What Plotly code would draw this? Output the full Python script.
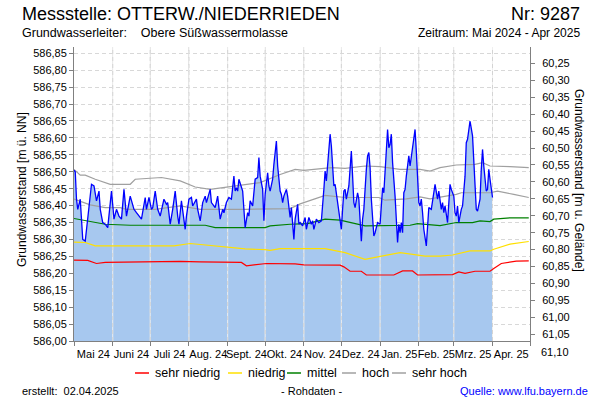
import pandas as pd
import plotly.graph_objects as go

# ---------------- data ----------------
START = "2024-05-01"
END = "2025-05-01"
GELAENDE = 647.07          # Geländehöhe [m ü. NN] -> rechte Achse
Y_MIN = 586.00
Y_MAX = 586.8686

# gemessene Grundwasserstände (Tage seit 01.05.2024, m ü. NN)
meas_day_offset = [
    0, 1, 2, 3, 5, 7, 9, 12, 14, 16,
    18, 20, 21, 23, 25, 27, 30, 32, 34, 36,
    38, 40, 42, 45, 48, 50, 52, 54, 57, 58,
    60, 62, 63, 65, 67, 69, 72, 74, 75, 77,
    79, 81, 83, 84, 86, 87, 89, 90, 92, 94,
    95, 98, 99, 101, 103, 105, 106, 109, 110, 113,
    115, 117, 119, 120, 122, 124, 126, 128, 129, 130,
    131, 132, 134, 135, 137, 139, 140, 141, 143, 145,
    147, 148, 149, 151, 152, 153, 155, 156, 157, 159,
    160, 162, 163, 165, 166, 167, 168, 170, 171, 173,
    174, 176, 177, 179, 180, 181, 183, 185, 186, 188,
    190, 191, 192, 194, 196, 198, 200, 201, 202, 204,
    205, 206, 208, 209, 211, 212, 214, 215, 216, 217,
    218, 220, 221, 222, 223, 224, 225, 227, 228, 229,
    230, 231, 232, 234, 235, 236, 237, 238, 240, 241,
    243, 245, 246, 247, 248, 249, 251, 252, 253, 254,
    255, 257, 258, 259, 260, 261, 262, 263, 264, 265,
    266, 268, 269, 271, 273, 274, 276, 277, 278, 279,
    280, 282, 283, 284, 286, 288, 289, 291, 292, 294,
    295, 296, 297, 299, 300, 301, 302, 304, 305, 306,
    307, 308, 310, 311, 313, 314, 315, 316, 317, 319,
    320, 321, 322, 323, 325, 326, 327, 328, 330, 331,
    332, 333, 334, 335,
]
meas_level = [
    586.505, 586.500, 586.419, 586.389, 586.419, 586.300, 586.295, 586.389, 586.463, 586.458,
    586.414, 586.443, 586.389, 586.350, 586.345, 586.335, 586.443, 586.360, 586.389, 586.369,
    586.360, 586.448, 586.369, 586.428, 586.389, 586.379, 586.369, 586.360, 586.424, 586.389,
    586.424, 586.389, 586.394, 586.443, 586.389, 586.369, 586.419, 586.404, 586.409, 586.345,
    586.389, 586.443, 586.369, 586.345, 586.414, 586.389, 586.330, 586.369, 586.419, 586.424,
    586.399, 586.419, 586.389, 586.355, 586.409, 586.428, 586.409, 586.448, 586.409, 586.394,
    586.428, 586.360, 586.389, 586.379, 586.409, 586.424, 586.419, 586.487, 586.443, 586.453,
    586.443, 586.478, 586.458, 586.443, 586.335, 586.379, 586.369, 586.414, 586.399, 586.478,
    586.483, 586.542, 586.487, 586.448, 586.355, 586.433, 586.497, 586.458, 586.443, 586.478,
    586.522, 586.591, 586.517, 586.443, 586.433, 586.409, 586.428, 586.448, 586.428, 586.365,
    586.394, 586.300, 586.360, 586.404, 586.345, 586.350, 586.340, 586.365, 586.330, 586.365,
    586.345, 586.355, 586.330, 586.360, 586.350, 586.355, 586.448, 586.502, 586.473, 586.586,
    586.611, 586.576, 586.458, 586.463, 586.414, 586.389, 586.330, 586.389, 586.443, 586.448,
    586.419, 586.458, 586.517, 586.561, 586.487, 586.409, 586.394, 586.438, 586.419, 586.355,
    586.295, 586.360, 586.389, 586.507, 586.547, 586.557, 586.512, 586.419, 586.310, 586.320,
    586.350, 586.345, 586.399, 586.453, 586.438, 586.512, 586.625, 586.571, 586.581, 586.611,
    586.527, 586.428, 586.345, 586.291, 586.345, 586.320, 586.350, 586.320, 586.438, 586.448,
    586.487, 586.547, 586.517, 586.566, 586.625, 586.561, 586.409, 586.399, 586.419, 586.379,
    586.330, 586.281, 586.350, 586.394, 586.389, 586.433, 586.463, 586.419, 586.443, 586.389,
    586.409, 586.379, 586.399, 586.350, 586.399, 586.463, 586.448, 586.428, 586.379, 586.369,
    586.399, 586.350, 586.389, 586.399, 586.487, 586.586, 586.596, 586.620, 586.650, 586.606,
    586.527, 586.438, 586.389, 586.384, 586.419, 586.507, 586.566, 586.517, 586.443, 586.448,
    586.507, 586.478, 586.443, 586.424,
]

# Kennwerte (Statistik)
sn_dates = ["2024-05-01", "2024-05-12", "2024-05-19", "2024-05-26", "2024-06-10", "2024-06-25",
            "2024-07-10", "2024-07-25", "2024-08-10", "2024-08-25", "2024-09-12", "2024-09-16",
            "2024-09-25", "2024-10-02", "2024-10-25", "2024-11-01", "2024-11-30", "2024-12-03",
            "2024-12-08", "2024-12-17", "2024-12-21", "2025-01-12", "2025-01-19", "2025-01-27",
            "2025-01-31", "2025-02-28", "2025-03-05", "2025-03-10", "2025-03-18", "2025-03-30",
            "2025-04-02", "2025-04-08", "2025-04-20", "2025-04-30"]
sn_values = [586.239, 586.238, 586.229, 586.232, 586.233, 586.234,
             586.233, 586.235, 586.234, 586.233, 586.232, 586.222,
             586.225, 586.229, 586.228, 586.225, 586.224, 586.219,
             586.206, 586.206, 586.195, 586.195, 586.207, 586.207,
             586.195, 586.196, 586.204, 586.200, 586.206, 586.206,
             586.214, 586.229, 586.236, 586.237]

nd_dates = ["2024-05-01", "2024-05-10", "2024-05-18", "2024-06-20", "2024-07-10", "2024-07-20",
            "2024-08-02", "2024-08-15", "2024-09-01", "2024-09-15", "2024-10-01", "2024-10-05",
            "2024-10-13", "2024-11-05", "2024-11-18", "2024-12-04", "2024-12-20", "2024-12-29",
            "2025-01-17", "2025-02-06", "2025-02-18", "2025-02-28", "2025-03-14", "2025-03-30",
            "2025-04-02", "2025-04-15", "2025-04-30"]
nd_values = [586.292, 586.291, 586.281, 586.281, 586.279, 586.281,
             586.288, 586.283, 586.278, 586.272, 586.270, 586.268,
             586.273, 586.272, 586.273, 586.261, 586.241, 586.248,
             586.261, 586.251, 586.251, 586.254, 586.266, 586.266,
             586.271, 586.286, 586.294]

mi_dates = ["2024-05-01", "2024-05-15", "2024-05-26", "2024-06-15", "2024-07-15", "2024-08-14",
            "2024-08-22", "2024-09-15", "2024-10-01", "2024-10-05", "2024-10-21", "2024-11-04",
            "2024-11-18", "2024-11-30", "2024-12-20", "2025-01-25", "2025-01-31", "2025-02-18",
            "2025-03-03", "2025-03-16", "2025-03-22", "2025-03-30", "2025-04-02", "2025-04-15",
            "2025-04-30"]
mi_values = [586.362, 586.352, 586.345, 586.342, 586.342, 586.342,
             586.335, 586.335, 586.335, 586.340, 586.345, 586.347,
             586.360, 586.357, 586.340, 586.342, 586.347, 586.341,
             586.350, 586.350, 586.355, 586.353, 586.360, 586.364,
             586.364]

ho_dates = ["2024-05-01", "2024-05-14", "2024-05-26", "2024-06-07", "2024-06-12", "2024-07-05",
            "2024-07-25", "2024-08-10", "2024-09-15", "2024-10-10", "2024-10-21", "2024-10-29",
            "2024-11-14", "2024-11-18", "2024-12-04", "2024-12-31", "2025-01-05", "2025-01-22",
            "2025-02-02", "2025-02-10", "2025-03-03", "2025-03-07", "2025-03-30", "2025-04-05",
            "2025-04-18", "2025-04-30"]
ho_values = [586.419, 586.402, 586.394, 586.394, 586.389, 586.389,
             586.399, 586.389, 586.389, 586.390, 586.391, 586.405,
             586.424, 586.430, 586.424, 586.424, 586.416, 586.420,
             586.426, 586.420, 586.433, 586.438, 586.438, 586.443,
             586.433, 586.424]

sh_dates = ["2024-05-01", "2024-05-06", "2024-05-10", "2024-05-18", "2024-05-30", "2024-06-15",
            "2024-06-19", "2024-07-10", "2024-07-25", "2024-08-06", "2024-08-18", "2024-09-01",
            "2024-09-27", "2024-10-13", "2024-10-25", "2024-11-01", "2024-11-23", "2024-12-04",
            "2024-12-20", "2025-01-01", "2025-01-17", "2025-02-02", "2025-02-10", "2025-02-18",
            "2025-03-03", "2025-03-18", "2025-03-24", "2025-03-30", "2025-04-09", "2025-04-15",
            "2025-04-30"]
sh_values = [586.507, 586.490, 586.490, 586.478, 586.463, 586.463,
             586.478, 586.483, 586.473, 586.455, 586.448, 586.455,
             586.468, 586.492, 586.507, 586.504, 586.512, 586.510,
             586.517, 586.515, 586.507, 586.507, 586.502, 586.512,
             586.520, 586.522, 586.527, 586.517, 586.517, 586.515,
             586.512]

month_labels = ["Mai 24", "Juni 24", "Juli 24", "Aug. 24", "Sept. 24", "Okt. 24",
                "Nov. 24", "Dez. 24", "Jan. 25", "Feb. 25", "Mrz. 25", "Apr. 25"]

# ---------------- derived ----------------
meas_dates = pd.Timestamp(START) + pd.to_timedelta(meas_day_offset, unit="D")
month_starts = pd.date_range(START, END, freq="MS")
month_mids = [a + (b - a) / 2 for a, b in zip(month_starts[:-1], month_starts[1:])]

FONT = "Liberation Sans, Arial, sans-serif"
NB = "\u00a0"
L, T, W, H = 74, 47, 456, 294
def px(x):
    return (x - L) / W
def py(y):
    return (T + H - y) / H

fig = go.Figure()

# Messwerte: Fläche
fig.add_trace(go.Scatter(x=meas_dates, y=meas_level, mode="lines", fill="tozeroy",
                         fillcolor="#A7C8EF", line=dict(width=0), showlegend=False,
                         hoverinfo="skip"))

# vertikale Monatslinien über der Fläche
gx, gy = [], []
for m in month_starts[1:-1]:
    gx += [m, m, None]
    gy += [Y_MIN, Y_MAX, None]
fig.add_trace(go.Scatter(x=gx, y=gy, mode="lines", line=dict(color="#efefef", width=1),
                         showlegend=False, hoverinfo="skip"))
fig.add_trace(go.Scatter(x=gx, y=gy, mode="lines",
                         line=dict(color="#d4d4d4", width=1, dash="4px,3px"),
                         showlegend=False, hoverinfo="skip"))

stats = [
    ("sehr niedrig", sn_dates, sn_values, "#FF0000"),
    ("niedrig", nd_dates, nd_values, "#FFE000"),
    ("mittel", mi_dates, mi_values, "#008000"),
    ("hoch", ho_dates, ho_values, "#A0A0A0"),
    ("sehr hoch", sh_dates, sh_values, "#A0A0A0"),
]
for name, d, v, c in stats:
    fig.add_trace(go.Scatter(x=d, y=v, mode="lines", name=name, showlegend=False,
                             line=dict(color=c, width=1.2)))

# Messwerte: Linie
fig.add_trace(go.Scatter(x=meas_dates, y=meas_level, mode="lines", name="Messwert",
                         line=dict(color="#0000FF", width=1.3), showlegend=False))

# Dummy trace for right axis
fig.add_trace(go.Scatter(x=[START], y=[GELAENDE - Y_MIN], yaxis="y2", mode="markers",
                         marker=dict(opacity=0), showlegend=False, hoverinfo="skip"))

fig.update_layout(
    width=600, height=400,
    margin=dict(l=L, r=600 - L - W, t=T, b=400 - T - H, autoexpand=False),
    paper_bgcolor="white", plot_bgcolor="white",
    separators=",.",
    showlegend=False,
    font=dict(family=FONT, size=11, color="black"),
    xaxis=dict(
        type="date", range=[START, END], automargin=False,
        tickmode="array", tickvals=month_mids, ticktext=month_labels, tickangle=0,
        ticks="", showgrid=False, tickfont=dict(size=11), ticklabelstandoff=3,
        showline=True, linecolor="#808080", linewidth=1,
        minor=dict(tickmode="array", tickvals=list(month_starts), ticks="outside",
                   ticklen=4, tickcolor="#808080", showgrid=True,
                   gridcolor="#d8d8d8", griddash="4px,3px", gridwidth=1),
        zeroline=False,
    ),
    yaxis=dict(
        range=[Y_MIN, Y_MAX], tickmode="linear", tick0=Y_MIN, dtick=0.05, automargin=False,
        tickformat=".2f", ticks="outside", ticklen=4, tickcolor="#808080",
        showline=True, linecolor="#808080", linewidth=1,
        showgrid=True, gridcolor="#d8d8d8", griddash="4px,3px", gridwidth=1,
        zeroline=False, tickfont=dict(size=11),
    ),
    yaxis2=dict(
        overlaying="y", side="right", automargin=False,
        range=[GELAENDE - Y_MIN, GELAENDE - Y_MAX],
        tickmode="linear", tick0=60.25, dtick=0.05, tickformat=".2f",
        ticks="outside", ticklen=4, tickcolor="#808080",
        showline=True, linecolor="#808080", linewidth=1,
        showgrid=False, zeroline=False, tickfont=dict(size=11),
        ticklabelstandoff=5,
    ),
)

ann = [
    dict(text="Messstelle: OTTERW./NIEDERRIEDEN", x=px(20), y=py(14), xanchor="left",
         yanchor="middle", font=dict(size=18)),
    dict(text="Nr: 9287", x=px(582), y=py(14), xanchor="right", yanchor="middle",
         font=dict(size=18)),
    dict(text="Grundwasserleiter:" + NB * 4 + "Obere Süßwassermolasse", x=px(20), y=py(33),
         xanchor="left", yanchor="middle", font=dict(size=12.5)),
    dict(text="Zeitraum: Mai 2024 - Apr 2025", x=px(582), y=py(33), xanchor="right",
         yanchor="middle", font=dict(size=12)),
    dict(text="Grundwasserstand [m ü. NN]", x=px(22), y=py(190), textangle=-90,
         xanchor="center", yanchor="middle", font=dict(size=12)),
    dict(text="Grundwasserstand [m u. Gelände]", x=px(579), y=py(180), textangle=90,
         xanchor="center", yanchor="middle", font=dict(size=12)),
    dict(text="erstellt:" + NB * 2 + "02.04.2025", x=px(20), y=py(391), xanchor="left",
         yanchor="middle", font=dict(size=11)),
    dict(text="- Rohdaten -", x=px(311), y=py(391), xanchor="center",
         yanchor="middle", font=dict(size=11)),
    dict(text="Quelle: www.lfu.bayern.de", x=px(590), y=py(391), xanchor="right",
         yanchor="middle", font=dict(size=11, color="#0000FF")),
    # unterste Beschriftung der rechten Achse (unterhalb des Diagrammbereichs)
    dict(text="61,10", x=1, y=py(351.5), xanchor="left", yanchor="middle", xshift=9,
         font=dict(size=11)),
]

# Legende (Linie + Name) für die Kennwerte
legend_x = [135, 228, 287, 342, 392]
LEG_Y = 373
for (name, _, _, c), lx in zip(stats, legend_x):
    fig.add_shape(type="line", xref="paper", yref="paper", x0=px(lx), x1=px(lx + 14),
                  y0=py(LEG_Y), y1=py(LEG_Y), line=dict(color=c, width=1.5))
    ann.append(dict(text=name, x=px(lx + 18), y=py(LEG_Y), xanchor="left",
                    yanchor="middle", font=dict(size=12.5)))

for a in ann:
    a.update(xref="paper", yref="paper", showarrow=False)
    fig.add_annotation(**a)

fig.write_html("out.html", config={"displayModeBar": False},
               post_script="document.body.style.margin='0';")
